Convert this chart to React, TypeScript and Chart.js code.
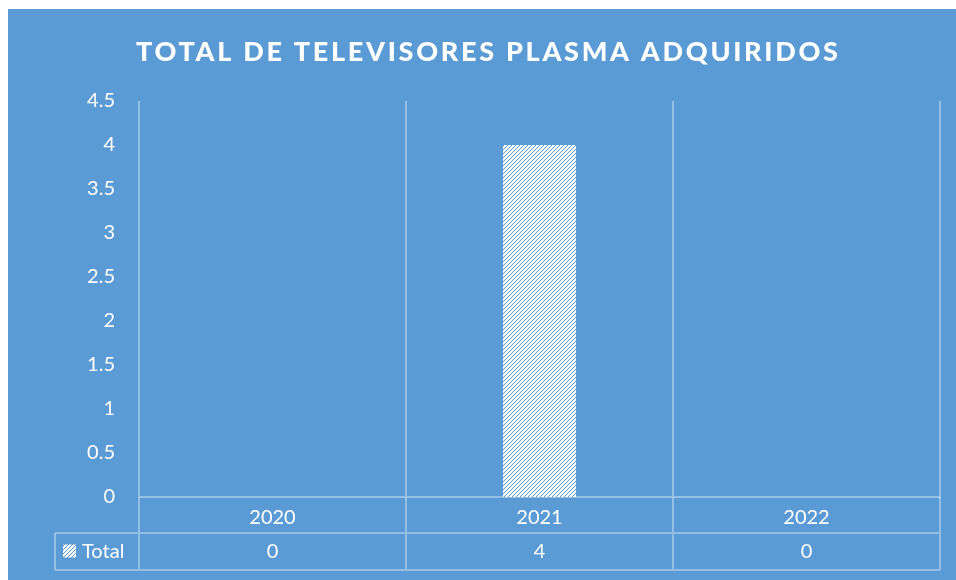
import React, { useEffect, useRef } from "react";
import { Chart, registerables } from "chart.js";

Chart.register(...registerables);

const chartTitle = "TOTAL DE TELEVISORES PLASMA ADQUIRIDOS";
const categories = ["2020", "2021", "2022"];
const seriesName = "Total";
const totalValues = [0, 4, 0];
const yMin = 0;
const yMax = 4.5;
const yStep = 0.5;

const BG = "#5B9BD5";
const LINE = "rgba(255,255,255,0.35)";
const FONT = "Lato, 'Open Sans', sans-serif";

function makePattern(ctx: CanvasRenderingContext2D) {
  const c = document.createElement("canvas");
  c.width = 4;
  c.height = 4;
  const p = c.getContext("2d")!;
  p.fillStyle = "#ffffff";
  p.fillRect(0, 0, 4, 4);
  p.fillStyle = BG;
  for (let i = 0; i < 4; i++) p.fillRect(3 - i, i, 1, 1);
  return ctx.createPattern(c, "repeat")!;
}

export default function App() {
  const ref = useRef<HTMLCanvasElement | null>(null);

  useEffect(() => {
    const canvas = ref.current!;
    const ctx = canvas.getContext("2d")!;
    const pattern = makePattern(ctx);

    const tablePlugin = {
      id: "tablePlugin",
      afterDraw(chart: any) {
        const c = chart.ctx as CanvasRenderingContext2D;
        const area = chart.chartArea;
        const xs = chart.scales.x;
        const row1 = area.bottom + 36;
        const row2 = area.bottom + 73;
        const leftCol = 47;
        const half = (xs.getPixelForValue(1) - xs.getPixelForValue(0)) / 2;
        const bounds = [area.left];
        categories.forEach((_, i) => bounds.push(xs.getPixelForValue(i) + half));

        c.save();
        // title
        c.fillStyle = "#ffffff";
        c.font = `900 27px ${FONT}`;
        c.textAlign = "left";
        c.textBaseline = "middle";
        (c as any).letterSpacing = "0px";
        const raw = c.measureText(chartTitle).width;
        const targetW = 702;
        const sp = (targetW - raw) / (chartTitle.length - 1);
        (c as any).letterSpacing = `${sp}px`;
        c.fillText(chartTitle, 479 - targetW / 2, 43);
        (c as any).letterSpacing = "0px";

        // table lines
        c.strokeStyle = LINE;
        c.lineWidth = 2;
        c.beginPath();
        bounds.forEach((bx) => {
          c.moveTo(bx, area.bottom);
          c.lineTo(bx, row2);
        });
        c.moveTo(leftCol, row1);
        c.lineTo(area.right, row1);
        c.moveTo(leftCol, row2);
        c.lineTo(area.right, row2);
        c.moveTo(leftCol, row1);
        c.lineTo(leftCol, row2);
        c.stroke();

        // legend key
        const midY = (row1 + row2) / 2;
        c.fillStyle = pattern;
        c.fillRect(leftCol + 8, midY - 7, 13, 13);
        c.fillStyle = "#ffffff";
        c.font = `20px ${FONT}`;
        c.textAlign = "left";
        c.fillText(seriesName, leftCol + 27, midY);

        // values
        c.textAlign = "center";
        totalValues.forEach((v, i) => {
          c.fillText(String(v), xs.getPixelForValue(i), midY);
        });
        c.restore();
      },
    };

    const chart = new Chart(ctx, {
      type: "bar",
      data: {
        labels: categories,
        datasets: [
          {
            label: seriesName,
            data: totalValues,
            backgroundColor: pattern,
            borderWidth: 0,
            categoryPercentage: 1,
            barPercentage: 0.273,
          },
        ],
      },
      options: {
        animation: false,
        responsive: false,
        maintainAspectRatio: false,
        layout: { padding: { top: 92, right: 16, left: 0, bottom: 0 } },
        plugins: {
          legend: { display: false },
          title: { display: false },
          tooltip: { enabled: false },
        },
        scales: {
          x: {
            offset: true,
            grid: {
              display: true,
              offset: true,
              color: LINE,
              lineWidth: 2,
              drawTicks: false,
            },
            border: { display: true, color: LINE, width: 2 },
            ticks: {
              color: "#ffffff",
              font: { family: FONT, size: 20 },
              padding: 9,
            },
            afterFit: (s: any) => {
              s.height = 83;
            },
          },
          y: {
            min: yMin,
            max: yMax,
            ticks: {
              stepSize: yStep,
              color: "#ffffff",
              font: { family: FONT, size: 20 },
              padding: 24,
              callback: (v: any) => String(Number(v)),
            },
            grid: { display: false, drawTicks: false },
            border: { display: false },
            afterFit: (s: any) => {
              s.width = 131;
            },
          },
        },
      },
      plugins: [tablePlugin],
    });

    return () => chart.destroy();
  }, []);

  return (
    <div
      style={{
        position: "fixed",
        left: 8,
        top: 9,
        width: 948,
        height: 571,
        background: BG,
      }}
    >
      <canvas ref={ref} width={948} height={571} style={{ display: "block" }} />
    </div>
  );
}
